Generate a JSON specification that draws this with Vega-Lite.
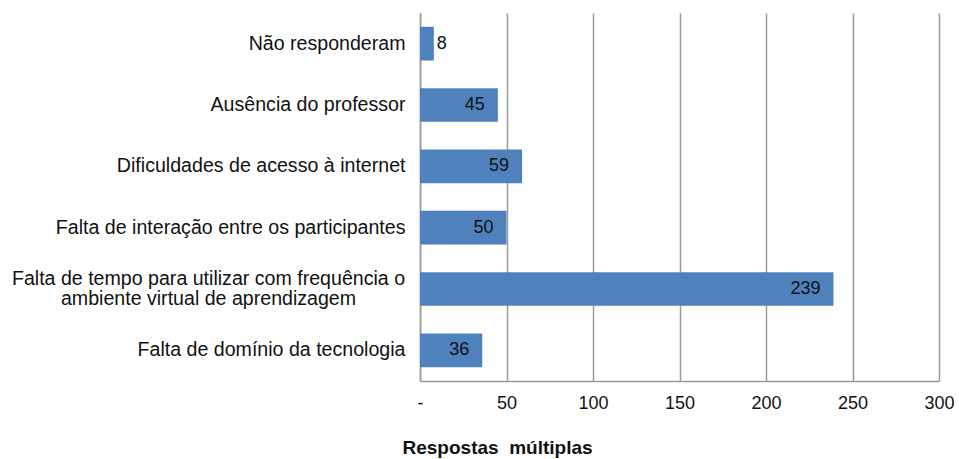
{
  "$schema": "https://vega.github.io/schema/vega-lite/v6.json",
  "autosize": "none",
  "padding": {"left": 420, "top": 13, "right": 20, "bottom": 78},
  "width": 519,
  "height": 368,
  "background": "white",
  "config": {
    "view": {"stroke": null},
    "font": "Liberation Sans"
  },
  "data": {
    "values": [
      {"motivo": "Não responderam", "respostas": 8},
      {"motivo": "Ausência do professor", "respostas": 45},
      {"motivo": "Dificuldades de acesso à internet", "respostas": 59},
      {"motivo": "Falta de interação entre os participantes", "respostas": 50},
      {"motivo": "Falta de tempo para utilizar com frequência o ambiente virtual de aprendizagem", "respostas": 239},
      {"motivo": "Falta de domínio da tecnologia", "respostas": 36}
    ]
  },
  "encoding": {
    "y": {
      "field": "motivo",
      "type": "nominal",
      "sort": null,
      "scale": {"paddingInner": 0.45, "paddingOuter": 0.225},
      "axis": {
        "title": null,
        "ticks": false,
        "domain": true,
        "domainColor": "#9a9a9a",
        "domainWidth": 1.5,
        "labelFont": "Liberation Sans",
        "labelFontSize": 19.6,
        "labelColor": "#111111",
        "labelPadding": {"condition": {"test": "indexof(datum.value, 'Falta de tempo') == 0", "value": 212}, "value": 15},
        "labelAlign": {"condition": {"test": "indexof(datum.value, 'Falta de tempo') == 0", "value": "center"}, "value": "right"},
        "labelOffset": {"condition": {"test": "indexof(datum.value, 'Falta de tempo') == 0", "value": -10}, "value": 0},
        "labelLimit": 420,
        "labelLineHeight": 20,
        "labelExpr": "indexof(datum.value, 'Falta de tempo') == 0 ? ['Falta de tempo para utilizar com frequência o', 'ambiente virtual de aprendizagem'] : datum.label"
      }
    },
    "x": {
      "field": "respostas",
      "type": "quantitative",
      "scale": {"domain": [0, 300], "nice": false},
      "axis": {
        "values": [0, 50, 100, 150, 200, 250, 300],
        "grid": true,
        "gridColor": "#9a9a9a",
        "gridWidth": 1.5,
        "ticks": false,
        "domain": true,
        "domainColor": "#9a9a9a",
        "domainWidth": 1.5,
        "labelFont": "Liberation Sans",
        "labelFontSize": 18,
        "labelColor": "#111111",
        "labelPadding": 13,
        "labelFlush": false,
        "labelExpr": "datum.value == 0 ? '-' : datum.label",
        "title": "Respostas\u00a0\u00a0múltiplas",
        "titleFont": "Liberation Sans",
        "titleFontSize": 19,
        "titleFontWeight": "bold",
        "titleColor": "#111111",
        "titleAnchor": "start",
        "titleAlign": "left",
        "titleX": -18,
        "titleY": 66,
        "titleBaseline": "middle"
      }
    }
  },
  "layer": [
    {
      "mark": {"type": "bar", "color": "#4F81BD"}
    },
    {
      "transform": [{"filter": "datum.respostas >= 20"}],
      "mark": {"type": "text", "align": "right", "baseline": "middle", "dx": -13, "fontSize": 18, "color": "#111111", "font": "Liberation Sans"},
      "encoding": {"text": {"field": "respostas", "type": "quantitative"}}
    },
    {
      "transform": [{"filter": "datum.respostas < 20"}],
      "mark": {"type": "text", "align": "left", "baseline": "middle", "dx": 3, "fontSize": 18, "color": "#111111", "font": "Liberation Sans"},
      "encoding": {"text": {"field": "respostas", "type": "quantitative"}}
    }
  ]
}
